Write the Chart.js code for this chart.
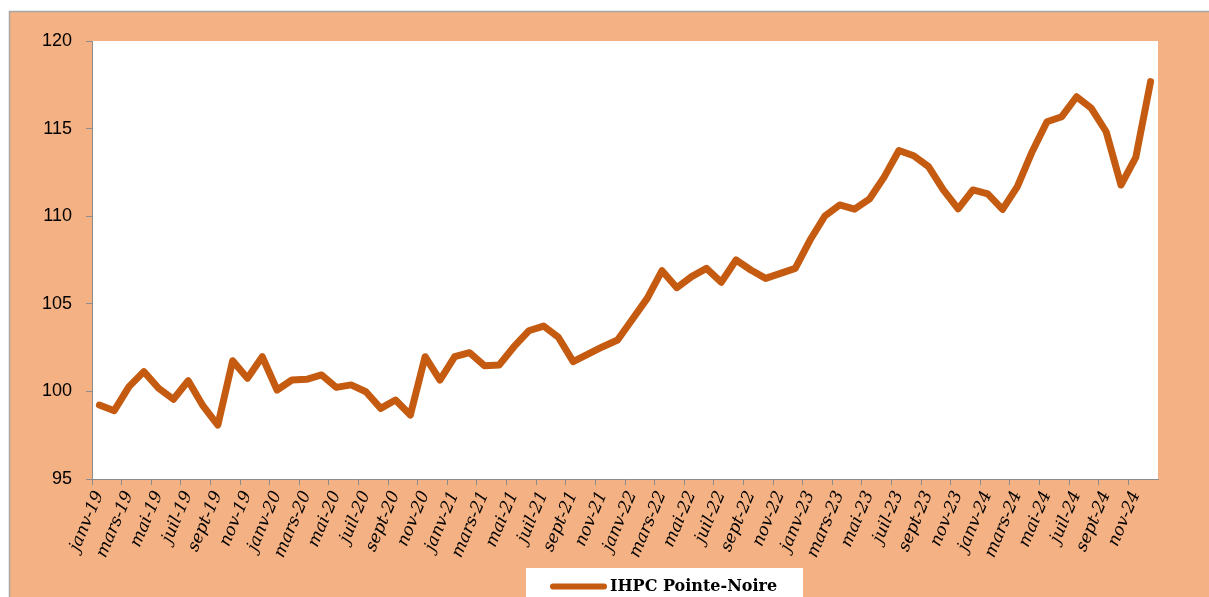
<!DOCTYPE html>
<html>
<head>
<meta charset="utf-8">
<script src="https://cdn.jsdelivr.net/npm/chart.js@4.4.1/dist/chart.umd.min.js"></script>
<style>
  html, body { margin: 0; padding: 0; background: #ffffff; }
  #wrap { position: relative; width: 1209px; height: 597px; }
</style>
</head>
<body>
<div id="wrap"><canvas id="c"></canvas></div>
<script>
const MONTHS = ['janv', 'févr', 'mars', 'avr', 'mai', 'juin', 'juil', 'août', 'sept', 'oct', 'nov', 'déc'];
const YEARS = ['19', '20', '21', '22', '23', '24'];
const SERIES_LABEL = 'IHPC Pointe-Noire';
const IHPC = [
  99.22, 98.90, 100.27, 101.13, 100.18, 99.55, 100.61, 99.17, 98.08, 101.75, 100.75, 101.98,
  100.08, 100.65, 100.69, 100.94, 100.23, 100.37, 99.98, 99.03, 99.51, 98.65, 101.98, 100.65,
  101.98, 102.21, 101.47, 101.51, 102.55, 103.46, 103.73, 103.09, 101.70, 102.13, 102.55, 102.93,
  104.12, 105.31, 106.89, 105.92, 106.55, 107.02, 106.23, 107.50, 106.93, 106.45, 106.74, 107.02,
  108.64, 110.01, 110.64, 110.40, 110.97, 112.23, 113.75, 113.45, 112.83, 111.50, 110.42, 111.50,
  111.27, 110.39, 111.69, 113.68, 115.39, 115.68, 116.82, 116.16, 114.82, 111.78, 113.36, 117.68
];
const Y_MIN = 95, Y_MAX = 120, Y_STEP = 5;

const CATEGORIES = [];
YEARS.forEach(y => MONTHS.forEach(m => CATEGORIES.push(m + '-' + y)));

const PEACH = '#F4B183';
const LINE = '#C55A11';
const AXIS = '#8C8C8C';

const framePlugin = {
  id: 'frame',
  beforeDraw(chart) {
    const ctx = chart.ctx;
    const W = chart.width, H = chart.height;
    ctx.save();
    ctx.fillStyle = '#ffffff';
    ctx.fillRect(0, 0, W, H);
    ctx.fillStyle = PEACH;
    ctx.fillRect(9, 11, W - 9, H - 11);
    ctx.strokeStyle = '#A6A6A6';
    ctx.lineWidth = 1.5;
    ctx.beginPath();
    ctx.moveTo(9.5, H);
    ctx.lineTo(9.5, 11.5);
    ctx.lineTo(W, 11.5);
    ctx.stroke();
    const a = chart.chartArea;
    ctx.fillStyle = '#ffffff';
    ctx.fillRect(a.left, a.top, a.right - a.left, a.bottom - a.top);
    ctx.restore();
  },
  afterDraw(chart) {
    const ctx = chart.ctx;
    const ds = chart.data.datasets[0];
    ctx.save();
    ctx.fillStyle = '#ffffff';
    ctx.fillRect(526, 568, 277, 40);
    ctx.strokeStyle = ds.borderColor;
    ctx.lineWidth = 6;
    ctx.lineCap = 'round';
    ctx.beginPath();
    ctx.moveTo(553, 586.5);
    ctx.lineTo(604, 586.5);
    ctx.stroke();
    ctx.fillStyle = '#000000';
    ctx.font = 'bold 16px "DejaVu Serif"';
    ctx.textBaseline = 'middle';
    ctx.textAlign = 'left';
    ctx.fillText(ds.label, 610, 587);
    ctx.restore();
  }
};

new Chart(document.getElementById('c'), {
  type: 'line',
  data: {
    labels: CATEGORIES,
    datasets: [{
      label: SERIES_LABEL,
      data: IHPC,
      borderColor: LINE,
      backgroundColor: LINE,
      borderWidth: 7,
      borderJoinStyle: 'round',
      borderCapStyle: 'round',
      pointRadius: 0,
      tension: 0,
      fill: false
    }]
  },
  options: {
    responsive: true,
    maintainAspectRatio: false,
    animation: false,
    layout: { padding: { left: 0, top: 41, right: 51, bottom: 0 } },
    plugins: {
      legend: { display: false },
      tooltip: { enabled: false }
    },
    scales: {
      x: {
        type: 'category',
        offset: true,
        afterFit(scale) { scale.height = 118; },
        grid: {
          offset: true,
          drawOnChartArea: false,
          drawTicks: true,
          tickLength: 6,
          color: (ctx) => (ctx.index % 2 === 0 ? AXIS : 'rgba(0,0,0,0)'),
          lineWidth: 1
        },
        border: { display: true, color: AXIS, width: 1 },
        ticks: {
          autoSkip: false,
          maxRotation: 67,
          minRotation: 67,
          padding: 3,
          color: '#000000',
          font: { family: '"DejaVu Serif"', style: 'italic', size: 17 },
          callback(value, index) { return index % 2 === 0 ? this.getLabelForValue(value) : ''; }
        }
      },
      y: {
        min: Y_MIN,
        max: Y_MAX,
        afterFit(scale) { scale.width = 92; },
        grid: {
          drawOnChartArea: false,
          drawTicks: true,
          tickLength: 6,
          color: AXIS
        },
        border: { display: true, color: AXIS, width: 1 },
        ticks: {
          stepSize: Y_STEP,
          padding: 14,
          color: '#000000',
          font: { family: '"Liberation Sans"', size: 18 }
        }
      }
    }
  },
  plugins: [framePlugin]
});
</script>
</body>
</html>
